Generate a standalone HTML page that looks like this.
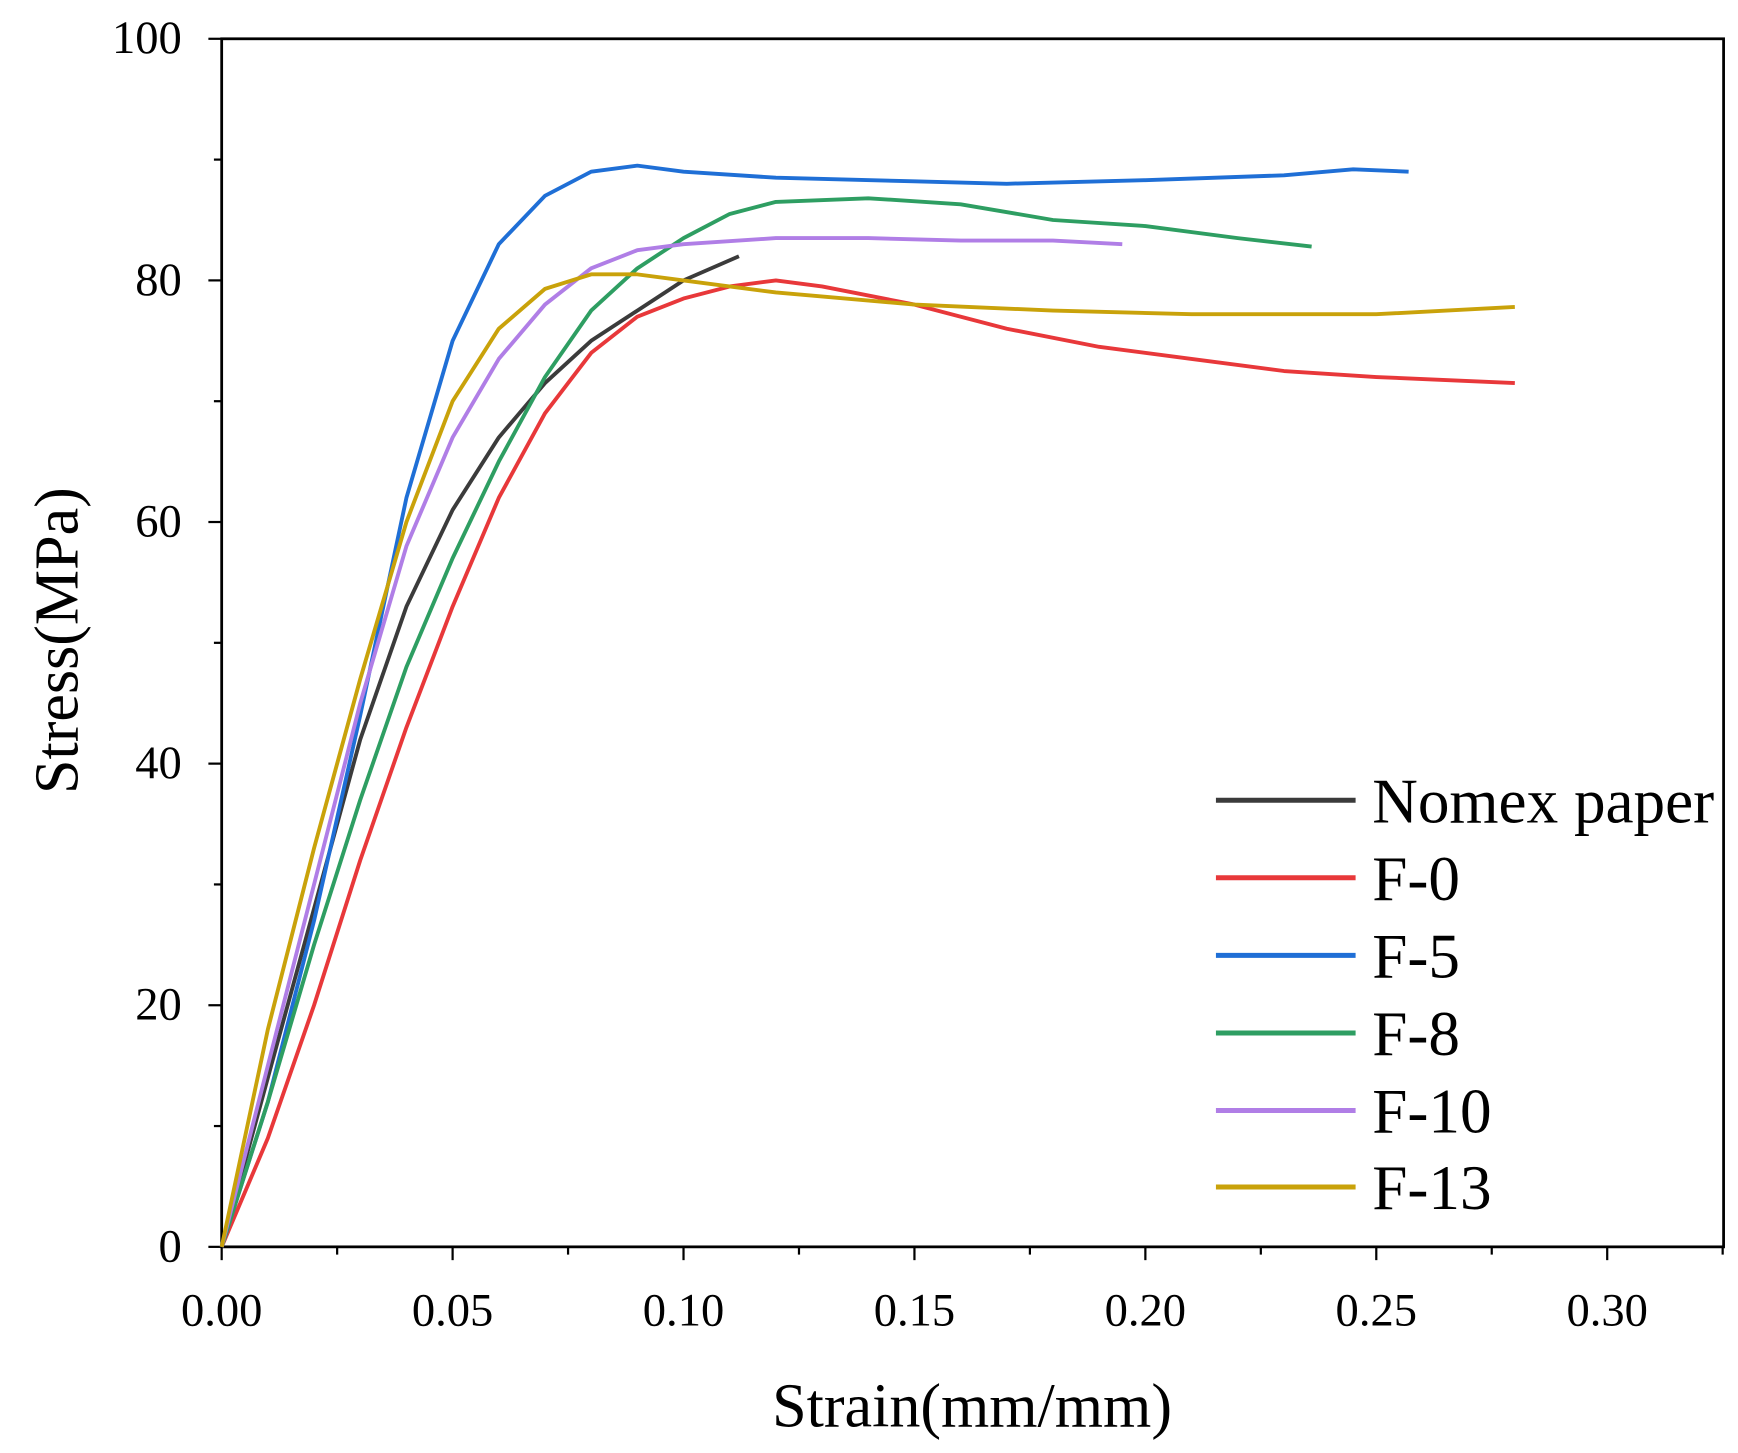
<!DOCTYPE html>
<html><head><meta charset="utf-8"><style>
html,body{margin:0;padding:0;background:#fff}
svg{display:block}
text{font-family:"Liberation Serif",serif;fill:#000}
</style></head><body>
<svg id="chart" width="1738" height="1453" viewBox="0 0 1568 1311" preserveAspectRatio="none" xmlns="http://www.w3.org/2000/svg">
<g id="axes"></g><g id="series"></g><g id="legend"></g>
</svg>
<script>
const seriesNames = ["Nomex paper","F-0","F-5","F-8","F-10","F-13"];
const seriesColors = ["#3b3b3b","#e8383a","#1f6fd6","#2e9e62","#b07ee6","#c9a20a"];
const nomexData = [[0,0],[0.01,14],[0.02,28],[0.03,42],[0.04,53],[0.05,61],[0.06,67],[0.07,71.5],[0.08,75],[0.09,77.5],[0.10,80],[0.112,82]];
const f0Data = [[0,0],[0.01,9],[0.02,20],[0.03,32],[0.04,43],[0.05,53],[0.06,62],[0.07,69],[0.08,74],[0.09,77],[0.10,78.5],[0.11,79.5],[0.12,80],[0.13,79.5],[0.15,78],[0.17,76],[0.19,74.5],[0.21,73.5],[0.23,72.5],[0.25,72],[0.28,71.5]];
const f5Data = [[0,0],[0.01,12],[0.02,27],[0.03,44],[0.04,62],[0.05,75],[0.06,83],[0.07,87],[0.08,89],[0.09,89.5],[0.10,89],[0.12,88.5],[0.15,88.2],[0.17,88],[0.20,88.3],[0.23,88.7],[0.245,89.2],[0.257,89]];
const f8Data = [[0,0],[0.01,12],[0.02,25],[0.03,37],[0.04,48],[0.05,57],[0.06,65],[0.07,72],[0.08,77.5],[0.09,81],[0.10,83.5],[0.11,85.5],[0.12,86.5],[0.14,86.8],[0.16,86.3],[0.18,85],[0.20,84.5],[0.22,83.5],[0.236,82.8]];
const f10Data = [[0,0],[0.01,15],[0.02,30],[0.03,45],[0.04,58],[0.05,67],[0.06,73.5],[0.07,78],[0.08,81],[0.09,82.5],[0.10,83],[0.12,83.5],[0.14,83.5],[0.16,83.3],[0.18,83.3],[0.195,83]];
const f13Data = [[0,0],[0.01,18],[0.02,33],[0.03,47],[0.04,60],[0.05,70],[0.06,76],[0.07,79.3],[0.08,80.5],[0.09,80.5],[0.10,80],[0.12,79],[0.15,78],[0.18,77.5],[0.21,77.2],[0.25,77.2],[0.28,77.8]];
const xTickLabels = ["0.00","0.05","0.10","0.15","0.20","0.25","0.30"];
const yTickLabels = ["0","20","40","60","80","100"];

const NS="http://www.w3.org/2000/svg";
const L=200,T=35,R=1555,B=1125;
const xMin=0,xMax=0.3252,yMin=0,yMax=100;
function xs(v){return L+(v-xMin)/(xMax-xMin)*(R-L);}
function ys(v){return B-(v-yMin)/(yMax-yMin)*(B-T);}
function mk(tag,attrs,parent){const e=document.createElementNS(NS,tag);for(const k in attrs)e.setAttribute(k,attrs[k]);parent.appendChild(e);return e;}
const axes=document.getElementById('axes'),sg=document.getElementById('series'),lg=document.getElementById('legend');

const frame=mk('rect',{x:L,y:T,width:R-L,height:B-T,fill:'none',stroke:'#000','stroke-width':2.5},axes);



for(let i=0;i<=13;i++){const v=i*0.025;if(v>xMax)break;const x=xs(v);
 const t=mk('line',{x1:x,x2:x,y1:B,y2:B+(i%2?7:12),stroke:'#000','stroke-width':2},axes);
 
 }
xTickLabels.forEach(s=>{const v=parseFloat(s);const t=mk('text',{x:xs(v),y:1196,'text-anchor':'middle','font-size':42},axes);t.textContent=s;
 
 });
for(let i=0;i<=10;i++){const y=ys(i*10);
 const t=mk('line',{x1:L,x2:L-(i%2?7:12),y1:y,y2:y,stroke:'#000','stroke-width':2},axes);
 
 }
yTickLabels.forEach(s=>{const v=parseFloat(s);const t=mk('text',{x:164,y:ys(v)+13,'text-anchor':'end','font-size':42},axes);t.textContent=s;
 
 });
const xt=mk('text',{x:877,y:1287,'text-anchor':'middle','font-size':56},axes);xt.textContent='Strain(mm/mm)';


const yt=mk('text',{x:0,y:0,'text-anchor':'middle','font-size':56,transform:'translate(70,578) rotate(-90)'},axes);yt.textContent='Stress(MPa)';



const allData=[nomexData,f0Data,f5Data,f8Data,f10Data,f13Data];
const keys=['nomex','f-0','f-5','f-8','f-10','f-13'];
allData.forEach((d,i)=>{
 const p=mk('polyline',{points:d.map(q=>xs(q[0])+','+ys(q[1])).join(' '),fill:'none',stroke:seriesColors[i],'stroke-width':3.5,'stroke-linejoin':'round'},sg);
 
 
});
const legY=[722,792,862,932,1002,1071];
seriesNames.forEach((n,i)=>{
 const g=mk('g',{},lg);
 
 
 mk('line',{x1:1097,x2:1223,y1:legY[i],y2:legY[i],stroke:seriesColors[i],'stroke-width':4.5},g);
 const t=mk('text',{x:1238,y:legY[i]+20,'font-size':57},g);t.textContent=n;
});
</script>
</body></html>
